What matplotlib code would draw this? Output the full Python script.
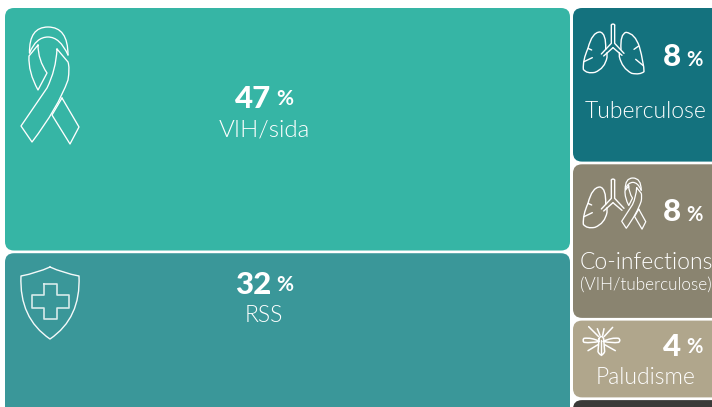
import matplotlib
matplotlib.use("Agg")
import matplotlib.pyplot as plt
from matplotlib.patches import FancyBboxPatch, PathPatch
from matplotlib.path import Path

W, H = 712, 407
left_labels = ["VIH/sida", "RSS"]
left_values = [47, 32]
left_colors = ["#36B5A5", "#3A9799"]
right_labels = ["Tuberculose", "Co-infections", "Paludisme", ""]
right_values = [8, 8, 4, 1]
right_colors = ["#14727E", "#8A8470", "#B0A68C", "#3A3A38"]

LEFT_X, LEFT_W, LEFT_Y, LEFT_UNIT = 5, 565, 8, 5.16
RIGHT_X, RIGHT_W, RIGHT_Y, RIGHT_UNIT = 573, 160, 8, 19.2
GAP = 2.7

plt.rcParams["font.family"] = ["Lato", "DejaVu Sans"]
fig = plt.figure(figsize=(W / 100, H / 100), dpi=100)
ax = fig.add_axes([0, 0, 1, 1])
ax.set_xlim(0, W)
ax.set_ylim(H, 0)
ax.axis("off")


def tile(x, y, w, h, color):
    r = 9
    ax.add_patch(FancyBboxPatch((x + r, y + r), w - 2 * r, h - 2 * r,
                                boxstyle=f"round,pad={r},rounding_size={r}",
                                fc=color, ec="none"))


def stack(x, w, y0, unit, values, colors):
    y = y0
    for v, c in zip(values, colors):
        h = v * unit
        tile(x, y, w, h, c)
        y += h + GAP


stack(LEFT_X, LEFT_W, LEFT_Y, LEFT_UNIT, left_values, left_colors)
stack(RIGHT_X, RIGHT_W, RIGHT_Y, RIGHT_UNIT, right_values, right_colors)


def curve(pts, closed=False, tf=lambda p: p, lw=1.0, color="white", alpha=1):
    verts, codes = [], []
    for i, p in enumerate(pts):
        if isinstance(p[0], tuple):
            verts += [tf(p[0]), tf(p[1])]
            codes += [Path.CURVE3, Path.CURVE3]
        else:
            verts.append(tf(p))
            codes.append(Path.MOVETO if i == 0 else Path.LINETO)
    if closed:
        verts.append(verts[0])
        codes.append(Path.LINETO)
    ax.add_patch(PathPatch(Path(verts, codes), fc="none", ec=color, lw=lw,
                           alpha=alpha, joinstyle="round", capstyle="round"))


def ribbon(tf=lambda p: p, lw=0.95):
    curve([(29.5, 53), ((29, 27), (48, 27)), ((68, 27), (68, 55))], tf=tf, lw=lw)
    curve([(29.5, 53), ((36, 37), (48, 37)), ((60, 37), (68, 55))], tf=tf, lw=lw)
    curve([(38, 45), ((38, 60), (47, 73)), (38, 90), ((28, 72), (29, 56))], closed=True, tf=tf, lw=lw)
    curve([(57, 49), ((56, 70), (47, 88)), (21, 126), (32, 142), ((58, 108), (68, 80)),
           ((70, 68), (68, 62))], closed=True, tf=tf, lw=lw)
    curve([(62, 98), (79, 127), (70, 144), (52, 115)], closed=True, tf=tf, lw=lw)


def shield():
    curve([(50, 267), ((37, 273), (21, 276)), ((19, 318), (50, 339)),
           ((81, 318), (79, 276)), ((63, 273), (50, 267))], lw=1.0, alpha=.95)
    curve([(43.5, 283.5), (56.5, 283.5), (56.5, 294.5), (68.5, 294.5), (68.5, 307.5),
           (56.5, 307.5), (56.5, 319), (43.5, 319), (43.5, 307.5), (31.5, 307.5),
           (31.5, 294.5), (43.5, 294.5)], closed=True, lw=1.2, alpha=.8)


def lung_left(tf, lw=1.0):
    curve([(137, 148), ((139, 100), (120, 96)), ((96, 96), (84, 145)), (95, 150)], tf=tf, lw=lw)
    curve([(84, 145), ((68, 180), (70, 208)), ((80, 222), (105, 217)),
           ((135, 205), (141, 172)), (141, 158)], tf=tf, lw=lw)
    curve([(72, 185), (97, 173)], tf=tf, lw=lw)


def lung_right(tf, lw=1.0):
    curve([(183, 148), ((180, 102), (198, 97)), ((225, 100), (238, 140)),
           ((252, 190), (252, 215)), ((240, 225), (215, 220)),
           ((186, 205), (178, 170)), (178, 158)], tf=tf, lw=lw)
    curve([(250, 197), (227, 178)], tf=tf, lw=lw)
    curve([(236, 138), (222, 148)], tf=tf, lw=lw)


def trachea(tf, lw=1.0):
    curve([(154, 75), (154, 130), (124, 162)], tf=tf, lw=lw)
    curve([(164, 75), (164, 130), (192, 160)], tf=tf, lw=lw)
    curve([(154, 75), ((159, 68), (164, 75))], tf=tf, lw=lw)
    curve([(159, 143), (131, 168)], tf=tf, lw=lw)
    curve([(159, 143), (186, 166)], tf=tf, lw=lw)


t1 = lambda p: (560 + p[0] / 3, p[1] / 3)
lung_left(t1); lung_right(t1); trachea(t1)

t2 = lambda p: (560 + p[0] / 3, 160 + (p[1] - 15) / 3)
lung_left(t2); trachea(t2)
ribbon(lambda p: (621.7 + (p[0] - 21) * 0.415, 178 + (p[1] - 27) * 0.437), lw=0.9)
ribbon()
shield()

# mosquito
m = lambda p: (560 + p[0] / 3, 310 + p[1] / 3)
curve([(118, 94), ((95, 82), (72, 85)), ((66, 91), (72, 97)), ((95, 100), (118, 94))], tf=m, lw=1.1)
curve([(130, 94), ((155, 82), (176, 85)), ((183, 91), (176, 97)), ((155, 100), (130, 94))], tf=m, lw=1.1)
curve([(117, 86), ((124, 72), (131, 86)), (134, 125), ((124, 145), (114, 125))], closed=True, tf=m, lw=1.1)
for a, b in [((116, 80), (86, 50)), ((132, 80), (158, 52)), ((114, 104), (84, 122)),
             ((134, 104), (166, 122)), ((120, 76), (112, 56)), ((128, 76), (132, 56))]:
    curve([a, b], tf=m, lw=1.1)
curve([(124, 90), (124, 134)], tf=m, lw=1)

LIGHT = dict(color="white", fontweight=300, family=["Lato", "DejaVu Sans"], va="baseline")
BOLD = dict(color="white", fontweight=900, va="baseline")
PCT = dict(color="white", fontweight=700, va="baseline", ha="left")


def pct(x_num, x_pct, y, value, rise, fs=22.5, fs2=15):
    ax.text(x_num, y, str(value), fontsize=fs, ha="right", **BOLD)
    ax.text(x_pct, y - rise, "%", fontsize=fs2, **PCT)


pct(271, 276, 108.5, left_values[0], 3.5)
ax.text(264, 136, left_labels[0], fontsize=17.4, ha="center", **LIGHT)
pct(271, 276, 294, left_values[1], 3)
ax.text(264, 322, left_labels[1], fontsize=16.5, ha="center", **LIGHT)

pct(681, 686, 66.5, right_values[0], 0, fs2=14.5)
ax.text(646, 118.5, right_labels[0], fontsize=16.5, ha="center", **LIGHT)
pct(681, 686, 221, right_values[1], 0, fs2=14.5)
ax.text(646, 269, right_labels[1], fontsize=16.5, ha="center", **LIGHT)
ax.text(646, 290, "(VIH/tuberculose)", fontsize=12.3, ha="center", **LIGHT)
pct(681, 686, 356.5, right_values[2], 3.5, fs2=14.5)
ax.text(646, 383.5, right_labels[2], fontsize=16.5, ha="center", **LIGHT)

fig.savefig("out.png", dpi=100)
